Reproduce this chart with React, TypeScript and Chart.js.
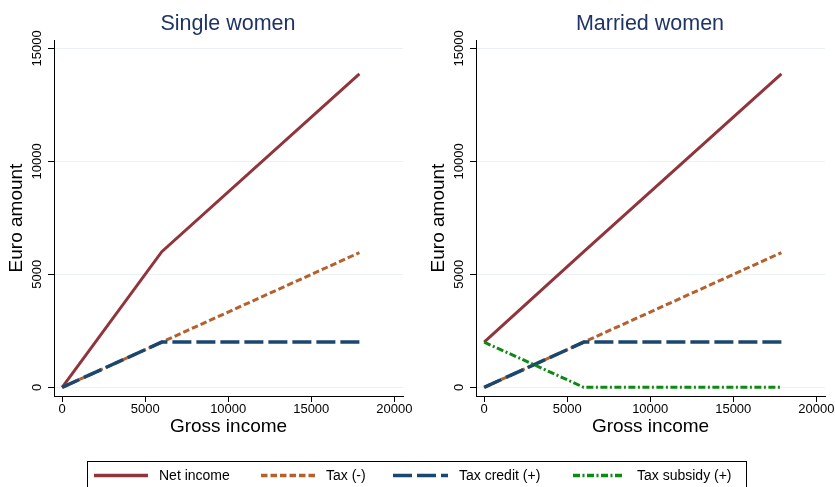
import React, { useEffect, useRef } from 'react';
import { Chart, registerables } from 'chart.js';

Chart.register(...registerables);

// ---- data ----
const incomeX = [0, 6000, 17900];
const singleNet = [0, 6000, 13870];
const taxValues = [0, 2000, 5960];
const creditValues = [0, 2000, 2000];
const marriedNet = [2000, 6000, 13870];
const subsidyValues = [2000, 0, 0];
const xTicks = [0, 5000, 10000, 15000, 20000];
const yTicks = [0, 5000, 10000, 15000];
const panelTitles = ['Single women', 'Married women'];
const legendLabels = ['Net income', 'Tax (-)', 'Tax credit (+)', 'Tax subsidy (+)'];

const FONT = '"Liberation Sans", Arial, Helvetica, sans-serif';

const STYLES = [
  { color: '#90353b', width: 3, dash: [] as number[] },
  { color: '#b5612d', width: 3, dash: [6.5, 3] },
  { color: '#1a476f', width: 3.5, dash: [19, 5] },
  { color: '#0d8a14', width: 3, dash: [7, 2.5, 2, 2.5] },
];

const toPts = (vals: number[]) => vals.map((v, i) => ({ x: incomeX[i], y: v }));

type Series = { label: string; values: number[]; style: number };

function Panel({ title, series, left }: { title: string; series: Series[]; left: number }) {
  const ref = useRef<HTMLCanvasElement | null>(null);
  useEffect(() => {
    if (!ref.current) return;
    const textPlugin = {
      id: 'panelText',
      afterDraw(chart: any) {
        const ctx = chart.ctx;
        const ys = chart.scales.y;
        ctx.save();
        ctx.fillStyle = '#000';
        ctx.font = `13px ${FONT}`;
        ctx.textAlign = 'center';
        ctx.textBaseline = 'middle';
        yTicks.forEach((v) => {
          const py = ys.getPixelForValue(v);
          ctx.save();
          ctx.translate(37, py);
          ctx.rotate(-Math.PI / 2);
          ctx.fillText(String(v), 0, 0);
          ctx.restore();
        });
        ctx.font = `21.5px ${FONT}`;
        ctx.fillStyle = '#1f3464';
        ctx.fillText(title, 228, 24);
        ctx.restore();
      },
    };
    const datasets = series.map((s) => {
      const st = STYLES[s.style];
      return {
        label: s.label,
        data: toPts(s.values),
        borderColor: st.color,
        backgroundColor: st.color,
        borderWidth: st.width,
        borderDash: st.dash,
        pointRadius: 0,
        fill: false,
        tension: 0,
        order: 4 - s.style,
      };
    });
    const chart = new Chart(ref.current, {
      type: 'line',
      data: { datasets },
      options: {
        animation: false,
        responsive: false,
        maintainAspectRatio: false,
        events: [],
        layout: { padding: { top: 40, right: 15, left: 0, bottom: 0 } },
        plugins: {
          legend: { display: false },
          tooltip: { enabled: false },
          title: { display: false },
        },
        scales: {
          x: {
            type: 'linear',
            min: -491,
            max: 20525,
            afterBuildTicks: (s: any) => {
              s.ticks = xTicks.map((v) => ({ value: v }));
            },
            afterFit: (s: any) => {
              s.height = 59;
            },
            grid: {
              drawOnChartArea: false,
              drawTicks: true,
              tickLength: 6,
              tickColor: '#000',
              color: '#000',
              lineWidth: 1,
            },
            border: { display: true, color: '#000', width: 1 },
            ticks: {
              padding: 0,
              autoSkip: false,
              maxRotation: 0,
              color: '#000',
              font: { family: FONT, size: 13 },
              callback: (v: any) => String(v),
            },
            title: {
              display: true,
              text: 'Gross income',
              color: '#000',
              font: { family: FONT, size: 19 },
              padding: { top: 0, bottom: 16.6 },
            },
          },
          y: {
            type: 'linear',
            min: -384,
            max: 15369,
            afterBuildTicks: (s: any) => {
              s.ticks = yTicks.map((v) => ({ value: v }));
            },
            afterFit: (s: any) => {
              s.width = 54;
            },
            grid: {
              color: '#e9f1f3',
              lineWidth: 1,
              drawTicks: true,
              tickLength: 6,
              tickColor: '#000',
            },
            border: { display: true, color: '#000', width: 1 },
            ticks: {
              padding: 0,
              autoSkip: false,
              color: 'rgba(0,0,0,0)',
              font: { family: FONT, size: 13 },
              callback: (v: any) => String(v),
            },
            title: {
              display: true,
              text: 'Euro amount',
              color: '#000',
              font: { family: FONT, size: 19 },
              padding: { top: 5.6, bottom: 0 },
            },
          },
        },
      } as any,
      plugins: [textPlugin],
    });
    return () => chart.destroy();
  }, [title, series]);
  return (
    <canvas
      ref={ref}
      width={418}
      height={455}
      style={{ position: 'absolute', left, top: 0, width: 418, height: 455 }}
    />
  );
}

const singleSeries: Series[] = [
  { label: legendLabels[0], values: singleNet, style: 0 },
  { label: legendLabels[1], values: taxValues, style: 1 },
  { label: legendLabels[2], values: creditValues, style: 2 },
];
const marriedSeries: Series[] = [
  { label: legendLabels[0], values: marriedNet, style: 0 },
  { label: legendLabels[1], values: taxValues, style: 1 },
  { label: legendLabels[2], values: creditValues, style: 2 },
  { label: legendLabels[3], values: subsidyValues, style: 3 },
];

const legendPos = [
  { x1: 94, x2: 148, tx: 159 },
  { x1: 261, x2: 315, tx: 326 },
  { x1: 393, x2: 448, tx: 459 },
  { x1: 573, x2: 623, tx: 637 },
];

export default function App() {
  return (
    <div
      style={{
        position: 'absolute',
        left: 0,
        top: 0,
        width: 835,
        height: 487,
        overflow: 'hidden',
        background: '#fff',
      }}
    >
      <Panel title={panelTitles[0]} series={singleSeries} left={0} />
      <Panel title={panelTitles[1]} series={marriedSeries} left={422} />
      <div
        style={{
          position: 'absolute',
          left: 87,
          top: 461,
          width: 658,
          height: 40,
          border: '1px solid #000',
          background: '#fff',
        }}
      />
      <svg
        width={835}
        height={487}
        style={{ position: 'absolute', left: 0, top: 0 }}
      >
        {legendLabels.map((lab, i) => {
          const st = STYLES[i];
          const p = legendPos[i];
          return (
            <g key={lab}>
              <line
                x1={p.x1}
                x2={p.x2}
                y1={475.5}
                y2={475.5}
                stroke={st.color}
                strokeWidth={3.5}
                strokeDasharray={st.dash.length ? st.dash.join(' ') : undefined}
              />
              <text
                x={p.tx}
                y={476}
                fontFamily={FONT}
                fontSize={14}
                fill="#000"
                dominantBaseline="middle"
              >
                {lab}
              </text>
            </g>
          );
        })}
      </svg>
    </div>
  );
}
